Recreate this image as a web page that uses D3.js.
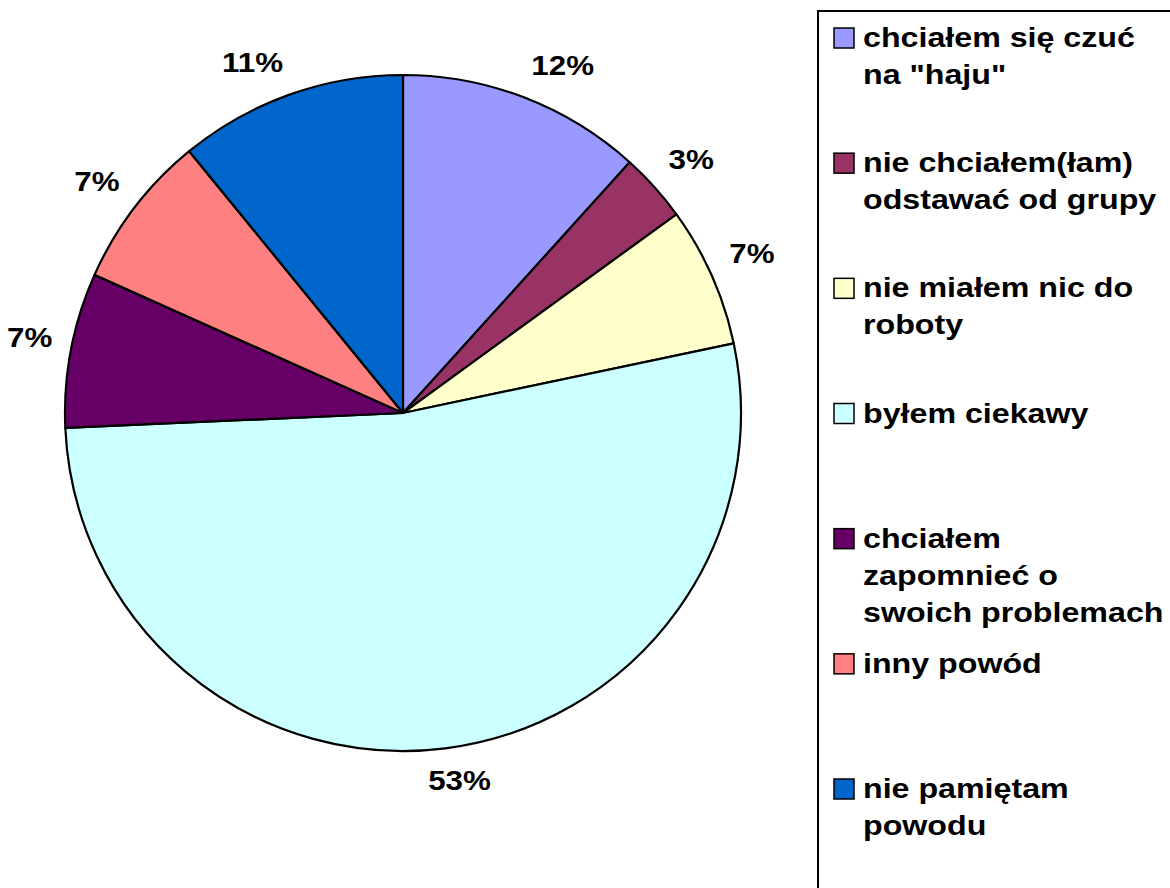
<!DOCTYPE html>
<html>
<head>
<meta charset="utf-8">
<script src="https://cdn.jsdelivr.net/npm/d3@7"></script>
<style>
  html, body { margin: 0; padding: 0; background: #fff; }
  svg { display: block; }
  text { font-family: "Liberation Sans", Arial, sans-serif; font-weight: bold; fill: #000; }
</style>
</head>
<body>
<svg id="chart" width="1170" height="888"></svg>
<script>
// Reasons given (share of respondents, %)
const categories = [
  "chciałem się czuć na \"haju\"",
  "nie chciałem(łam) odstawać od grupy",
  "nie miałem nic do roboty",
  "byłem ciekawy",
  "chciałem zapomnieć o swoich problemach",
  "inny powód",
  "nie pamiętam powodu"
];
const values = [11.7, 3.3, 6.7, 52.6, 7.4, 7.4, 10.9];
const colors = ["#9999FF", "#993366", "#FFFFCC", "#CCFFFF", "#660066", "#FF8080", "#0066CC"];
// Legend text broken into lines
const legendLines = [
  ["chciałem się czuć", "na \"haju\""],
  ["nie chciałem(łam)", "odstawać od grupy"],
  ["nie miałem nic do", "roboty"],
  ["byłem ciekawy"],
  ["chciałem", "zapomnieć o", "swoich problemach"],
  ["inny powód"],
  ["nie pamiętam", "powodu"]
];

const svg = d3.select("#chart");
const cx = 403, cy = 413, radius = 338, labelRadius = 357;
const total = d3.sum(values);
const fmt = d3.format(".0%");
// Text is drawn slightly widened
const widen = 1.15, pctWiden = 1.12;

const pie = d3.pie().sort(null).value(d => d)(values);
const arc = d3.arc().innerRadius(0).outerRadius(radius);

const g = svg.append("g").attr("transform", `translate(${cx},${cy})`);

g.selectAll("path.slice")
  .data(pie)
  .join("path")
  .attr("class", "slice")
  .attr("d", arc)
  .attr("fill", (d, i) => colors[i])
  .attr("stroke", "#000")
  .attr("stroke-width", 2.2)
  .attr("stroke-linejoin", "round");

// Percentage labels: the label box sits just outside the rim, pushed away
// from the slice along its mid-angle
const labels = g.selectAll("text.pct")
  .data(pie)
  .join("text")
  .attr("class", "pct")
  .attr("text-anchor", "middle")
  .attr("dominant-baseline", "central")
  .attr("font-size", 28)
  .text(d => fmt(d.value / total));

labels.attr("transform", function(d) {
  const a = (d.startAngle + d.endAngle) / 2;
  const s = Math.sin(a), c = Math.cos(a);
  const hw = this.getComputedTextLength() * pctWiden / 2, hh = 14;
  const x = s * labelRadius + Math.sign(s) * hw * Math.min(1, Math.abs(s) * 3);
  const y = -c * labelRadius - Math.sign(c) * hh * Math.min(1, Math.abs(c) * 3);
  return `translate(${x},${y - 1}) scale(${pctWiden},1)`;
});

// Legend
const legend = svg.append("g");
legend.append("rect")
  .attr("x", 818).attr("y", 11)
  .attr("width", 420).attr("height", 920)
  .attr("fill", "#fff")
  .attr("stroke", "#000")
  .attr("stroke-width", 2);

const entryY = d3.scaleLinear().domain([0, 6]).range([47, 798]);
const lineH = 37;

const items = legend.selectAll("g.item")
  .data(categories)
  .join("g")
  .attr("class", "item")
  .attr("transform", (d, i) => `translate(0,${entryY(i)})`);

items.append("rect")
  .attr("x", 834).attr("y", -19)
  .attr("width", 20).attr("height", 20)
  .attr("fill", (d, i) => colors[i])
  .attr("stroke", "#000")
  .attr("stroke-width", 1.5);

items.append("text")
  .attr("transform", `translate(863,0) scale(${widen},1)`)
  .attr("font-size", 28)
  .selectAll("tspan")
  .data((d, i) => legendLines[i])
  .join("tspan")
  .attr("x", 0)
  .attr("dy", (d, j) => j === 0 ? 0 : lineH)
  .text(d => d);
</script>
</body>
</html>
